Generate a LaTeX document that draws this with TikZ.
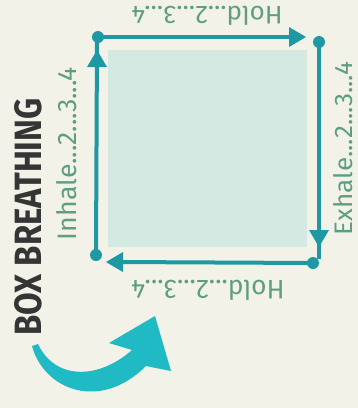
\documentclass[tikz,border=0pt]{standalone}
\usepackage{fontspec}
\setsansfont{Fira Sans}
\newfontfamily\headfont{Fira Sans}
\usepackage{graphicx}
\definecolor{paper}{HTML}{F3F2E8}
\definecolor{boxfill}{HTML}{D4E9E1}
\definecolor{edge}{HTML}{1E99A3}
\definecolor{swoosh}{HTML}{1FBAC3}
\definecolor{countc}{HTML}{5E9E80}
\definecolor{headc}{HTML}{353535}
\tikzset{
  side/.style={draw=edge, line width=4pt},
  tip/.style={fill=edge},
  dot/.style={circle, fill=edge, inner sep=0pt, minimum size=12pt},
  count/.style={inner sep=0pt, text=countc, font=\sffamily},
}
\begin{document}
\begin{tikzpicture}[x=1pt, y=-1pt]
  \useasboundingbox[fill=paper] (0,0) rectangle (358,408);
  % inner square
  \fill[boxfill] (108,50) rectangle (307,247);

  % corner dots
  \node[dot] (tl) at (98,37) {};
  \node[dot] (tr) at (319,42) {};
  \node[dot] (br) at (313,263) {};
  \node[dot] (bl) at (96,255) {};

  % arrow tips
  \coordinate (ttop) at (306,37);
  \coordinate (tright) at (319,247);
  \coordinate (tbot) at (106,262);
  \coordinate (tleft) at (97,50);

  % sides
  \draw[side] (tl.center) -- ([xshift=-12pt]ttop);
  \fill[tip] (ttop) -- ++(-17,-10) -- ++(0,20) -- cycle;
  \draw[side] (tr.center) -- ([yshift=-12pt]tright);
  \fill[tip] (tright) -- ++(-10,-17) -- ++(20,0) -- cycle;
  \draw[side] (br.center) -- ([xshift=12pt]tbot);
  \fill[tip] (tbot) -- ++(17,-10) -- ++(0,20) -- cycle;
  \draw[side] (bl.center) -- ([yshift=12pt]tleft);
  \fill[tip] (tleft) -- ++(-10,17) -- ++(20,0) -- cycle;

  % counting labels
  \node[count, rotate=180] (holdtop) at (207,15.5) {\resizebox{151pt}{19pt}{Hold...2...3...4}};
  \node[count, rotate=180] (holdbot) at (208,290) {\resizebox{153pt}{20pt}{Hold...2...3...4}};
  \node[count, rotate=90] (inhale) at (67,153.5) {\resizebox{173pt}{20pt}{Inhale...2...3...4}};
  \node[count, rotate=90] (exhale) at (343,148.5) {\resizebox{173pt}{19pt}{Exhale...2...3...4}};

  % title
  \node[inner sep=0pt, rotate=90, text=headc] (title) at (28,217)
    {\resizebox{237pt}{27pt}{\headfont\bfseries BOX BREATHING}};

  % swoosh arrow
  \fill[swoosh] (32,346)
    .. controls (44,390) and (100,412) .. (146,366)
    -- (171,371) -- (155,316) -- (109,343) -- (132,350)
    .. controls (98,380) and (55,380) .. (38,344) -- cycle;
\end{tikzpicture}
\end{document}
